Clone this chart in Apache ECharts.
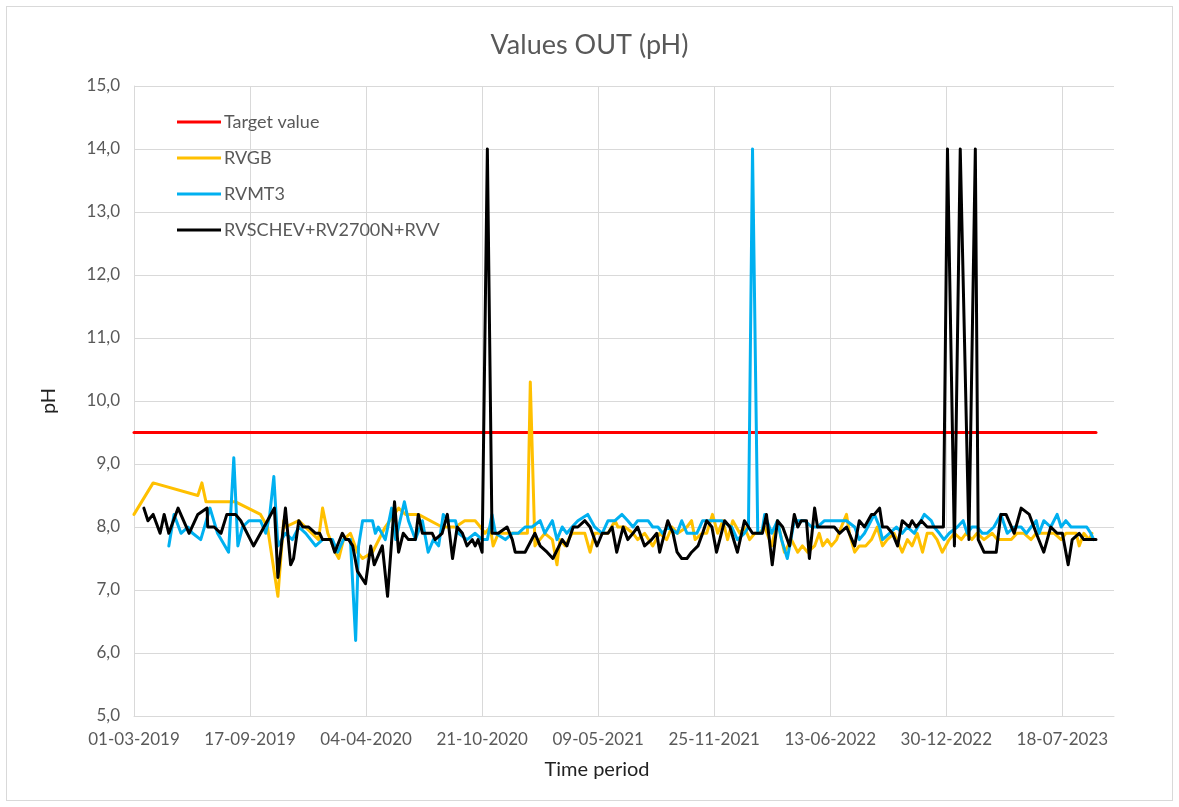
<!DOCTYPE html>
<html>
<head>
<meta charset="utf-8">
<title>Values OUT (pH)</title>
<script src="https://cdn.jsdelivr.net/npm/echarts@6/dist/echarts.min.js"></script>
<style>
  html, body { margin: 0; padding: 0; background: #fff; }
  #chart { position: absolute; left: 6px; top: 6px; width: 1165px; height: 793px; border: 1px solid #d9d9d9; }
</style>
</head>
<body>
<div id="chart"></div>
<script>
const startDate = "2019-03-01";
const endDate = "2023-10-15";
const targetValue = 9.5;

const rvgb = [
  ["2019-03-01", 8.2], ["2019-04-03", 8.7], ["2019-06-19", 8.5], ["2019-06-26", 8.7],
  ["2019-07-03", 8.4], ["2019-08-23", 8.4], ["2019-10-05", 8.2], ["2019-10-17", 8.0],
  ["2019-11-04", 6.9], ["2019-11-14", 8.1], ["2019-11-17", 8.0], ["2019-12-10", 8.1],
  ["2020-01-13", 7.8], ["2020-01-20", 8.3], ["2020-01-29", 7.9], ["2020-02-11", 7.6],
  ["2020-02-17", 7.5], ["2020-02-25", 7.8], ["2020-03-08", 7.9], ["2020-03-20", 7.6],
  ["2020-03-29", 7.5], ["2020-04-15", 7.6], ["2020-05-07", 8.0], ["2020-05-30", 8.3],
  ["2020-06-11", 8.2], ["2020-07-03", 8.2], ["2020-08-13", 8.0], ["2020-08-24", 8.0],
  ["2020-09-05", 8.0], ["2020-09-21", 8.1], ["2020-10-09", 8.1], ["2020-10-18", 8.0],
  ["2020-10-26", 7.9], ["2020-11-04", 8.0], ["2020-11-09", 7.7], ["2020-11-18", 7.9],
  ["2020-12-12", 7.9], ["2021-01-07", 7.9], ["2021-01-12", 10.3], ["2021-01-20", 7.7],
  ["2021-02-06", 7.9], ["2021-02-19", 7.8], ["2021-02-27", 7.4], ["2021-03-04", 7.8],
  ["2021-03-13", 7.7], ["2021-03-25", 7.9], ["2021-04-16", 7.9], ["2021-04-25", 7.6],
  ["2021-05-03", 7.9], ["2021-05-16", 7.9], ["2021-05-26", 7.9], ["2021-06-07", 8.1],
  ["2021-06-12", 8.0], ["2021-06-24", 8.0], ["2021-07-08", 7.9], ["2021-07-16", 7.8],
  ["2021-07-28", 7.9], ["2021-08-11", 7.7], ["2021-08-23", 7.9], ["2021-09-04", 7.8],
  ["2021-09-13", 8.0], ["2021-09-23", 7.9], ["2021-10-09", 8.0], ["2021-10-17", 8.1],
  ["2021-10-23", 7.8], ["2021-11-04", 7.9], ["2021-11-12", 7.9], ["2021-11-22", 8.2],
  ["2021-12-01", 7.9], ["2021-12-10", 8.1], ["2021-12-18", 7.8], ["2021-12-27", 8.1],
  ["2022-01-08", 7.9], ["2022-01-16", 8.0], ["2022-01-25", 7.8], ["2022-02-03", 7.9],
  ["2022-02-11", 7.9], ["2022-02-20", 8.0], ["2022-03-04", 7.7], ["2022-03-14", 8.1],
  ["2022-03-26", 7.6], ["2022-04-07", 7.8], ["2022-04-18", 7.6], ["2022-04-26", 7.7],
  ["2022-05-05", 7.6], ["2022-05-17", 7.7], ["2022-05-25", 7.9], ["2022-05-31", 7.7],
  ["2022-06-08", 7.8], ["2022-06-15", 7.7], ["2022-06-24", 7.8], ["2022-07-02", 8.0],
  ["2022-07-11", 8.2], ["2022-07-16", 7.9], ["2022-07-25", 7.6], ["2022-08-02", 7.7],
  ["2022-08-13", 7.7], ["2022-08-23", 7.8], ["2022-09-02", 8.0], ["2022-09-11", 7.7],
  ["2022-09-19", 7.8], ["2022-10-01", 7.9], ["2022-10-15", 7.6], ["2022-10-24", 7.8],
  ["2022-11-01", 7.7], ["2022-11-10", 7.9], ["2022-11-19", 7.6], ["2022-11-27", 7.9],
  ["2022-12-06", 7.9], ["2022-12-14", 7.8], ["2022-12-23", 7.6], ["2023-01-04", 7.8],
  ["2023-01-13", 7.9], ["2023-01-25", 7.8], ["2023-02-02", 7.9], ["2023-02-12", 7.8],
  ["2023-02-21", 7.9], ["2023-03-05", 7.8], ["2023-03-19", 7.9], ["2023-03-28", 7.8],
  ["2023-04-09", 7.8], ["2023-04-21", 7.8], ["2023-05-01", 7.9], ["2023-05-13", 7.9],
  ["2023-05-25", 7.8], ["2023-06-03", 7.9], ["2023-06-11", 7.9], ["2023-06-22", 7.9],
  ["2023-07-04", 7.9], ["2023-07-16", 7.8], ["2023-07-24", 7.9], ["2023-08-02", 7.9],
  ["2023-08-11", 7.9], ["2023-08-16", 7.7], ["2023-08-24", 7.9], ["2023-09-02", 7.8],
  ["2023-09-07", 7.9]
];

const rvmt3 = [
  ["2019-04-30", 7.7], ["2019-05-09", 8.2], ["2019-05-21", 7.9], ["2019-06-02", 8.0],
  ["2019-06-10", 7.9], ["2019-06-24", 7.8], ["2019-07-10", 8.3], ["2019-07-23", 7.9],
  ["2019-08-11", 7.6], ["2019-08-20", 9.1], ["2019-08-27", 7.7], ["2019-09-04", 8.0],
  ["2019-09-15", 8.1], ["2019-09-23", 8.1], ["2019-10-05", 8.1], ["2019-10-14", 7.9],
  ["2019-10-21", 8.2], ["2019-10-28", 8.8], ["2019-11-04", 7.7], ["2019-11-17", 7.9],
  ["2019-11-29", 7.8], ["2019-12-10", 8.0], ["2019-12-22", 7.9], ["2020-01-08", 7.7],
  ["2020-01-20", 7.8], ["2020-02-06", 7.8], ["2020-02-15", 7.6], ["2020-02-25", 7.8],
  ["2020-03-08", 7.8], ["2020-03-17", 6.2], ["2020-03-22", 7.7], ["2020-03-29", 8.1],
  ["2020-04-15", 8.1], ["2020-04-20", 7.9], ["2020-04-25", 8.0], ["2020-05-07", 7.8],
  ["2020-05-18", 8.3], ["2020-05-25", 7.8], ["2020-06-09", 8.4], ["2020-06-16", 8.1],
  ["2020-06-28", 7.8], ["2020-07-10", 8.1], ["2020-07-20", 7.6], ["2020-07-29", 7.8],
  ["2020-08-07", 7.7], ["2020-08-15", 8.2], ["2020-08-24", 8.1], ["2020-09-05", 8.1],
  ["2020-09-10", 7.9], ["2020-09-25", 7.8], ["2020-10-09", 7.9], ["2020-10-21", 7.8],
  ["2020-10-30", 7.8], ["2020-11-07", 8.2], ["2020-11-13", 7.9], ["2020-11-30", 7.8],
  ["2020-12-12", 7.9], ["2020-12-22", 7.9], ["2021-01-03", 8.0], ["2021-01-15", 8.0],
  ["2021-01-29", 8.1], ["2021-02-06", 7.9], ["2021-02-19", 8.1], ["2021-02-27", 7.8],
  ["2021-03-08", 8.0], ["2021-03-16", 7.9], ["2021-03-25", 8.0], ["2021-04-04", 8.1],
  ["2021-04-21", 8.2], ["2021-05-03", 8.0], ["2021-05-16", 7.9], ["2021-05-26", 8.1],
  ["2021-06-07", 8.1], ["2021-06-19", 8.2], ["2021-06-29", 8.1], ["2021-07-08", 8.0],
  ["2021-07-16", 8.1], ["2021-08-03", 8.1], ["2021-08-11", 8.0], ["2021-08-20", 8.0],
  ["2021-08-28", 7.9], ["2021-09-06", 8.0], ["2021-09-22", 7.9], ["2021-09-30", 8.1],
  ["2021-10-09", 7.9], ["2021-10-26", 7.9], ["2021-11-05", 8.1], ["2021-11-21", 8.1],
  ["2021-12-08", 8.1], ["2021-12-25", 8.0], ["2022-01-04", 7.8], ["2022-01-16", 7.9],
  ["2022-01-23", 8.0], ["2022-01-30", 14.0], ["2022-02-08", 7.9], ["2022-02-15", 7.9],
  ["2022-02-20", 8.2], ["2022-03-04", 7.9], ["2022-03-14", 8.1], ["2022-03-21", 7.8],
  ["2022-03-31", 7.5], ["2022-04-12", 8.1], ["2022-04-30", 8.1], ["2022-05-12", 8.0],
  ["2022-05-22", 8.0], ["2022-06-03", 8.1], ["2022-07-11", 8.1], ["2022-07-25", 8.0],
  ["2022-08-02", 7.8], ["2022-08-11", 7.9], ["2022-08-28", 8.2], ["2022-09-06", 8.0],
  ["2022-09-11", 7.8], ["2022-09-23", 7.9], ["2022-10-05", 8.0], ["2022-10-15", 7.9],
  ["2022-10-24", 8.0], ["2022-11-05", 7.9], ["2022-11-22", 8.2], ["2022-12-04", 8.1],
  ["2022-12-09", 8.0], ["2022-12-18", 7.9], ["2022-12-26", 7.8], ["2023-01-04", 7.9],
  ["2023-01-18", 8.0], ["2023-01-28", 8.1], ["2023-02-04", 7.9], ["2023-02-12", 8.0],
  ["2023-02-21", 8.0], ["2023-03-02", 7.9], ["2023-03-10", 7.9], ["2023-03-22", 8.0],
  ["2023-04-03", 8.2], ["2023-04-14", 7.9], ["2023-04-26", 8.0], ["2023-05-08", 8.0],
  ["2023-05-17", 7.9], ["2023-05-25", 8.0], ["2023-06-03", 8.1], ["2023-06-08", 7.9],
  ["2023-06-16", 8.1], ["2023-06-28", 8.0], ["2023-07-09", 8.2], ["2023-07-16", 8.0],
  ["2023-07-24", 8.1], ["2023-08-02", 8.0], ["2023-08-19", 8.0], ["2023-08-29", 8.0],
  ["2023-09-05", 7.9], ["2023-09-10", 7.8]
];

const rvschev = [
  ["2019-03-18", 8.3], ["2019-03-25", 8.1], ["2019-04-03", 8.2], ["2019-04-15", 7.9],
  ["2019-04-22", 8.2], ["2019-04-30", 7.9], ["2019-05-16", 8.3], ["2019-06-04", 7.9],
  ["2019-06-19", 8.2], ["2019-07-05", 8.3], ["2019-07-06", 8.0], ["2019-07-17", 8.0],
  ["2019-07-29", 7.9], ["2019-08-08", 8.2], ["2019-08-23", 8.2], ["2019-09-01", 8.1],
  ["2019-09-23", 7.7], ["2019-10-17", 8.1], ["2019-10-29", 8.3], ["2019-11-04", 7.2],
  ["2019-11-17", 8.3], ["2019-11-26", 7.4], ["2019-12-01", 7.5], ["2019-12-10", 8.1],
  ["2019-12-17", 8.0], ["2019-12-27", 8.0], ["2020-01-08", 7.9], ["2020-01-15", 7.9],
  ["2020-01-20", 7.8], ["2020-02-03", 7.8], ["2020-02-10", 7.6], ["2020-02-23", 7.9],
  ["2020-02-29", 7.8], ["2020-03-05", 7.8], ["2020-03-12", 7.7], ["2020-03-20", 7.3],
  ["2020-04-03", 7.1], ["2020-04-12", 7.7], ["2020-04-18", 7.4], ["2020-05-02", 7.7],
  ["2020-05-11", 6.9], ["2020-05-23", 8.4], ["2020-05-30", 7.6], ["2020-06-07", 7.9],
  ["2020-06-16", 7.8], ["2020-06-28", 7.8], ["2020-07-03", 8.2], ["2020-07-10", 7.9],
  ["2020-07-27", 7.9], ["2020-08-01", 7.8], ["2020-08-13", 7.9], ["2020-08-22", 8.2],
  ["2020-08-31", 7.5], ["2020-09-08", 8.0], ["2020-09-17", 7.9], ["2020-09-25", 7.7],
  ["2020-10-04", 7.8], ["2020-10-09", 7.7], ["2020-10-14", 7.8], ["2020-10-21", 7.6],
  ["2020-10-30", 14.0], ["2020-11-07", 7.9], ["2020-11-18", 7.9], ["2020-12-03", 8.0],
  ["2020-12-12", 7.8], ["2020-12-17", 7.6], ["2021-01-03", 7.6], ["2021-01-20", 7.9],
  ["2021-01-29", 7.7], ["2021-02-10", 7.6], ["2021-02-20", 7.5], ["2021-03-08", 7.8],
  ["2021-03-16", 7.7], ["2021-03-27", 8.0], ["2021-04-04", 8.0], ["2021-04-16", 8.1],
  ["2021-04-25", 8.0], ["2021-05-07", 7.7], ["2021-05-16", 7.9], ["2021-05-26", 7.9],
  ["2021-06-02", 8.0], ["2021-06-10", 7.6], ["2021-06-21", 8.0], ["2021-06-29", 7.8],
  ["2021-07-08", 7.9], ["2021-07-16", 8.0], ["2021-07-28", 7.7], ["2021-08-09", 7.8],
  ["2021-08-18", 7.9], ["2021-08-23", 7.6], ["2021-09-06", 8.1], ["2021-09-15", 7.9],
  ["2021-09-22", 7.6], ["2021-09-30", 7.5], ["2021-10-09", 7.5], ["2021-10-17", 7.6],
  ["2021-10-28", 7.7], ["2021-11-05", 7.9], ["2021-11-12", 8.1], ["2021-11-21", 8.0],
  ["2021-11-29", 7.6], ["2021-12-13", 8.1], ["2021-12-22", 8.0], ["2022-01-04", 7.6],
  ["2022-01-16", 8.1], ["2022-01-30", 7.9], ["2022-02-16", 7.9], ["2022-02-23", 8.2],
  ["2022-03-05", 7.4], ["2022-03-14", 8.1], ["2022-03-23", 8.0], ["2022-04-04", 7.7],
  ["2022-04-12", 8.2], ["2022-04-18", 8.0], ["2022-04-24", 8.1], ["2022-05-03", 8.1],
  ["2022-05-08", 7.5], ["2022-05-17", 8.3], ["2022-05-22", 8.0], ["2022-06-20", 8.0],
  ["2022-06-29", 7.9], ["2022-07-11", 8.0], ["2022-07-25", 7.7], ["2022-08-02", 8.1],
  ["2022-08-11", 8.0], ["2022-08-23", 8.2], ["2022-08-28", 8.2], ["2022-09-06", 8.3],
  ["2022-09-11", 8.0], ["2022-09-19", 8.0], ["2022-09-28", 7.9], ["2022-10-07", 7.7],
  ["2022-10-15", 8.1], ["2022-10-27", 8.0], ["2022-11-01", 8.1], ["2022-11-08", 8.0],
  ["2022-11-17", 8.1], ["2022-11-27", 8.0], ["2022-12-09", 8.0], ["2022-12-25", 8.0],
  ["2023-01-01", 14.0], ["2023-01-13", 7.7], ["2023-01-23", 14.0], ["2023-02-07", 7.8],
  ["2023-02-18", 14.0], ["2023-02-23", 7.8], ["2023-03-05", 7.6], ["2023-03-26", 7.6],
  ["2023-04-03", 8.2], ["2023-04-12", 8.2], ["2023-04-26", 7.9], ["2023-05-08", 8.3],
  ["2023-05-22", 8.2], ["2023-06-03", 7.9], ["2023-06-16", 7.6], ["2023-06-28", 8.0],
  ["2023-07-09", 7.9], ["2023-07-18", 7.9], ["2023-07-28", 7.4], ["2023-08-04", 7.8],
  ["2023-08-16", 7.9], ["2023-08-24", 7.8], ["2023-09-05", 7.8], ["2023-09-14", 7.8]
];

const seriesNames = ["Target value", "RVGB", "RVMT3", "RVSCHEV+RV2700N+RVV"];
const seriesColors = ["#ff0000", "#ffc000", "#00b0f0", "#000000"];

const dayMs = 86400000;
const t0 = Date.parse(startDate);
const dayOf = (s) => (Date.parse(s) - t0) / dayMs;
const pad = (n) => String(n).padStart(2, "0");
const fmtDate = (v) => {
  const d = new Date(t0 + v * dayMs);
  return pad(d.getUTCDate()) + "-" + pad(d.getUTCMonth() + 1) + "-" + d.getUTCFullYear();
};
const toPoints = (rows) => rows.map((r) => [dayOf(r[0]), r[1]]);

const lastDate = rvschev[rvschev.length - 1][0];
const target = [[startDate, targetValue], [lastDate, targetValue]];

const chart = echarts.init(document.getElementById("chart"));

const lineSeries = (i, rows) => ({
  name: seriesNames[i],
  type: "line",
  data: toPoints(rows),
  symbol: "none",
  showSymbol: false,
  color: seriesColors[i],
  lineStyle: { width: 3, color: seriesColors[i], join: "round", cap: "round" }
});

chart.setOption({
  animation: false,
  textStyle: { fontFamily: "Lato" },
  title: {
    text: "Values OUT (pH)",
    left: "center",
    top: 20,
    textStyle: { fontFamily: "Lato", fontSize: 27, fontWeight: "normal", color: "#595959" }
  },
  legend: {
    data: seriesNames,
    orient: "vertical",
    left: 170,
    top: 106,
    icon: "rect",
    itemWidth: 44,
    itemHeight: 3,
    itemGap: 18,
    padding: 0,
    textStyle: { fontFamily: "Lato", fontSize: 18, color: "#595959", padding: [0, 0, 0, -2] }
  },
  grid: { left: 127, right: 58, top: 79, bottom: 84 },
  xAxis: {
    type: "value",
    min: 0,
    max: dayOf(endDate),
    interval: 200,
    name: "Time period",
    nameLocation: "middle",
    nameGap: 44,
    nameTextStyle: { fontFamily: "Lato", fontSize: 20, color: "#222", padding: [0, 54, 0, 0] },
    axisLine: { show: true, lineStyle: { color: "#d9d9d9", width: 1 } },
    axisTick: { show: false },
    axisLabel: { color: "#595959", fontSize: 17, margin: 15, showMaxLabel: false, formatter: fmtDate },
    splitLine: { show: true, showMaxLine: false, lineStyle: { color: "#d9d9d9", width: 1 } }
  },
  yAxis: {
    type: "value",
    min: 5,
    max: 15,
    interval: 1,
    name: "pH",
    nameLocation: "middle",
    nameGap: 75,
    nameRotate: 90,
    nameTextStyle: { fontFamily: "Lato", fontSize: 20, color: "#222" },
    axisLine: { show: true, lineStyle: { color: "#d9d9d9", width: 1 } },
    axisTick: { show: false },
    axisLabel: { color: "#595959", fontSize: 17, margin: 14, formatter: (v) => v.toFixed(1).replace(".", ",") },
    splitLine: { show: true, lineStyle: { color: "#d9d9d9", width: 1 } }
  },
  series: [
    lineSeries(0, target),
    lineSeries(1, rvgb),
    lineSeries(2, rvmt3),
    lineSeries(3, rvschev)
  ]
});
</script>
</body>
</html>
